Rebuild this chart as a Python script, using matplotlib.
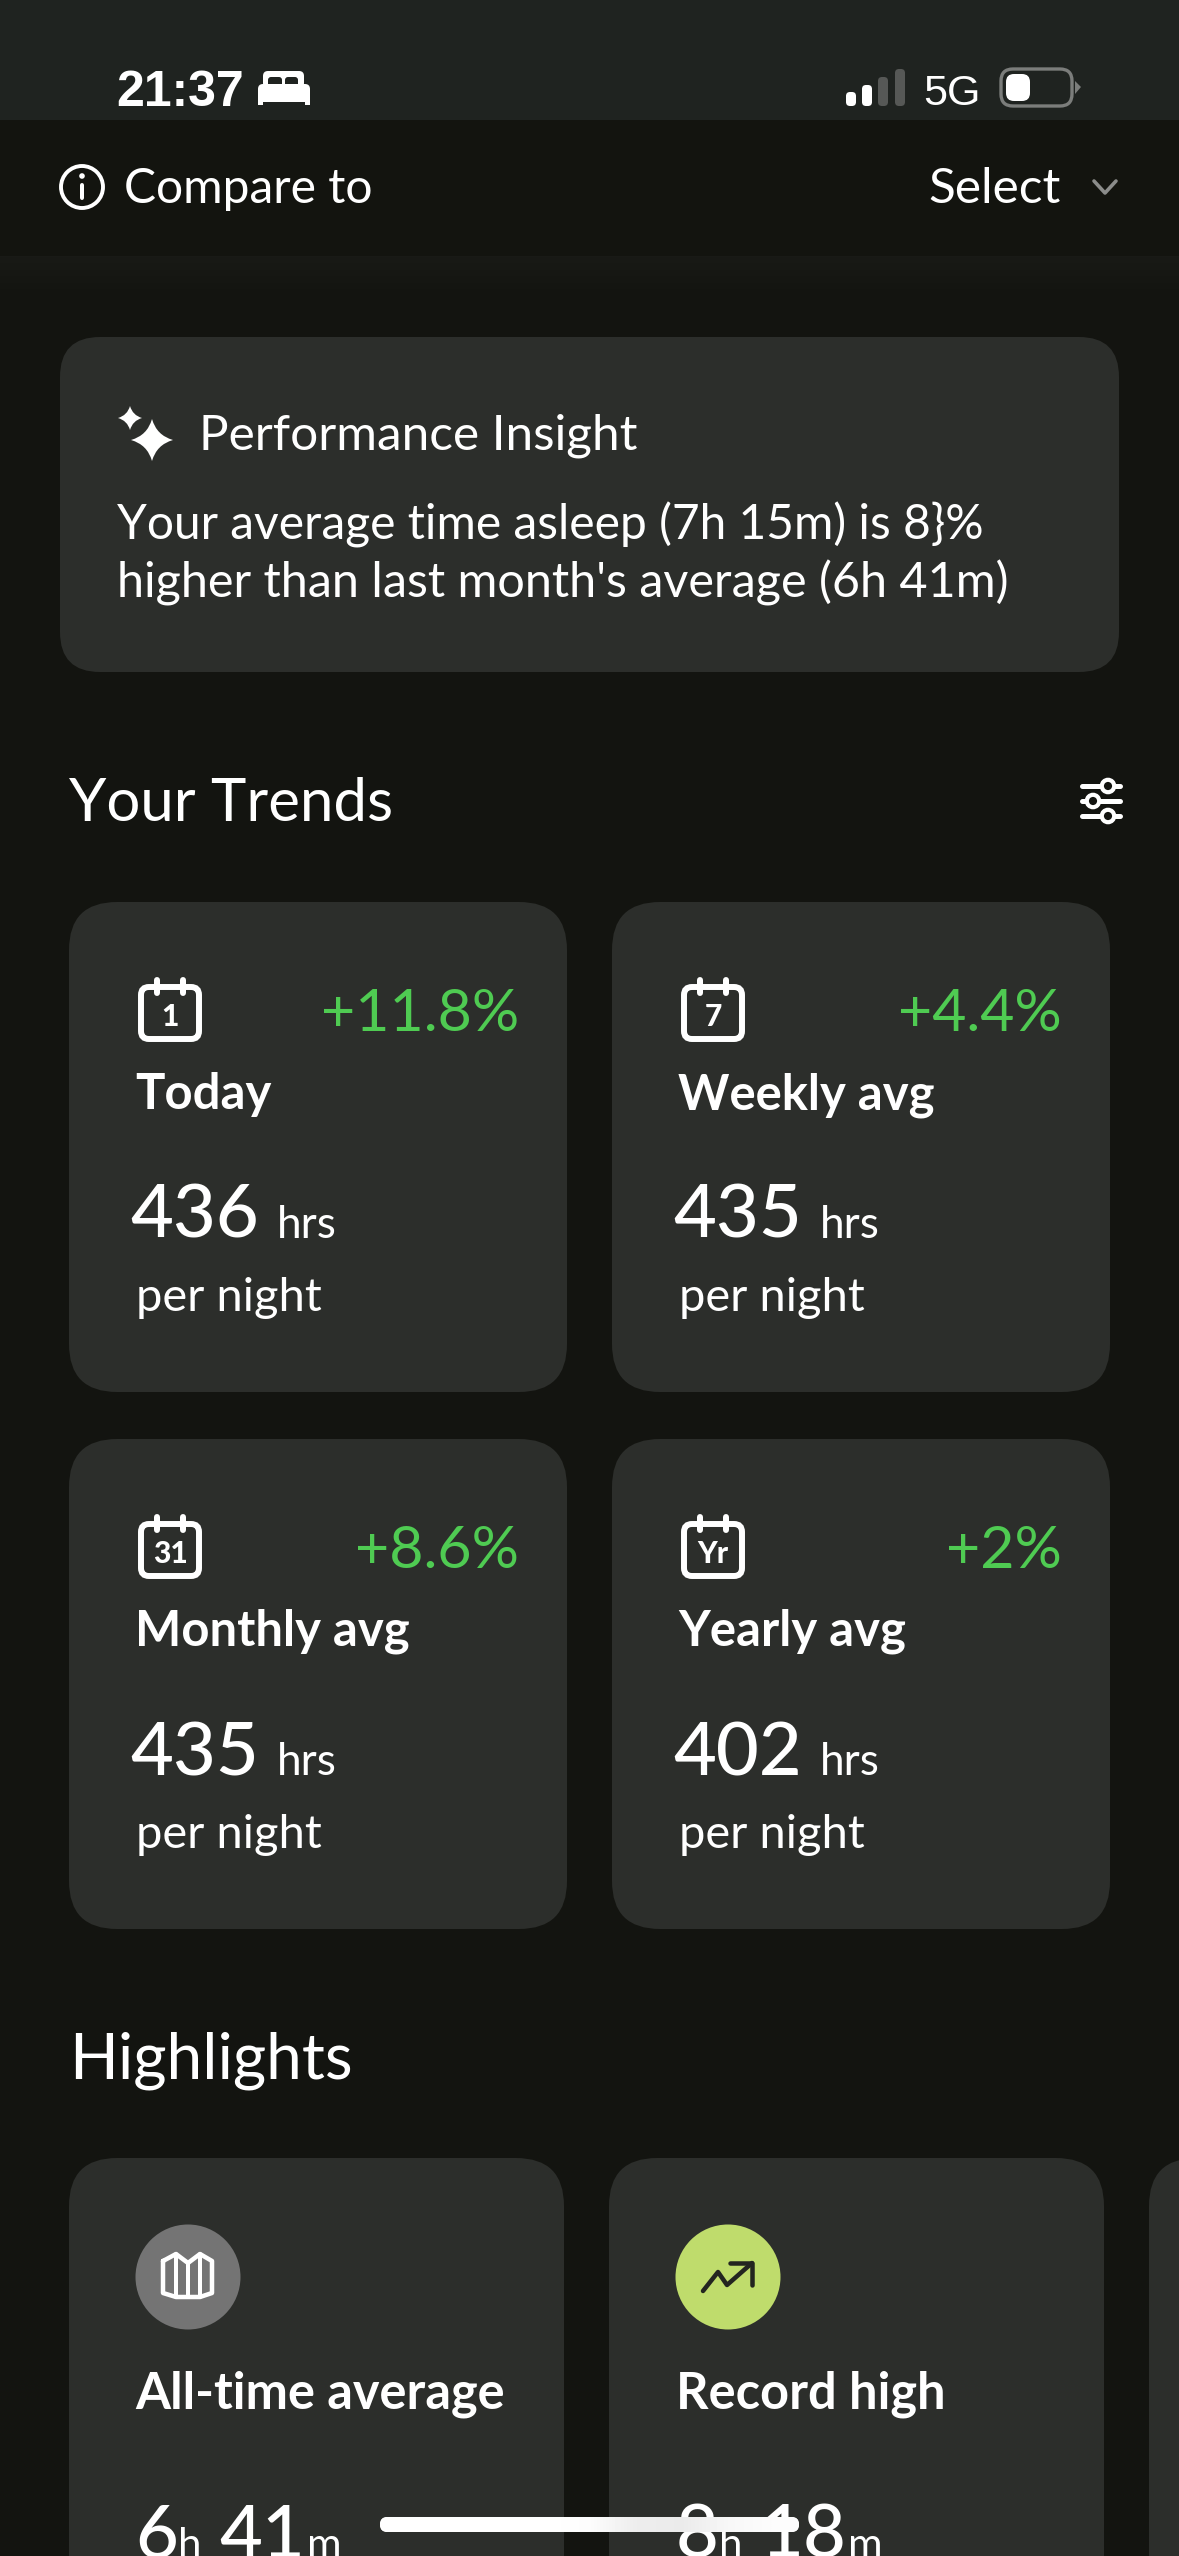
import matplotlib
matplotlib.use("Agg")
import matplotlib.pyplot as plt
from matplotlib.patches import FancyBboxPatch, Circle, Rectangle, PathPatch, Polygon
from matplotlib.path import Path
from matplotlib.colors import to_rgb
import numpy as np

plt.rcParams['font.family'] = ['Lato', 'DejaVu Sans']

# screen text
status_time = "21:37"
network = "5G"
compare_label = "Compare to"
select_label = "Select"
insight_title = "Performance Insight"
insight_lines = ["Your average time asleep (7h 15m) is 8}%",
                 "higher than last month's average (6h 41m)"]

trend_labels = ["Today", "Weekly avg", "Monthly avg", "Yearly avg"]
trend_changes = ["+11.8%", "+4.4%", "+8.6%", "+2%"]
trend_values = ["436", "435", "435", "402"]
trend_icons = ["1", "7", "31", "Yr"]

highlight_labels = ["All-time average", "Record high"]
highlight_hours = ["6", "8"]
highlight_minutes = ["41", "18"]

BG = "#131410"
HEADER = "#13140f"
STATUS = "#1f2320"
CARD = "#2c2e2b"
GREEN = "#4fcb52"

fig = plt.figure(figsize=(11.79, 25.56), dpi=100, facecolor=BG)
ax = fig.add_axes([0, 0, 1, 1])
ax.set_xlim(0, 1179)
ax.set_ylim(2556, 0)
ax.axis('off')


def txt(x, y, s, px, color="white", weight="normal", ha="left", family=None, z=5):
    kw = {}
    if family:
        kw['family'] = family
    return ax.text(x, y, s, fontsize=px * 0.72, color=color, fontweight=weight,
                   ha=ha, va="baseline", zorder=z, **kw)


def card(x0, y0, x1, y1, r, color=CARD, z=1, **kw):
    p = FancyBboxPatch((x0, y0), x1 - x0, y1 - y0, boxstyle=f"round,pad=0,rounding_size={r}",
                       fc=color, ec="none", zorder=z, **kw)
    ax.add_patch(p)
    return p


def line(xs, ys, lw=6, color="white", z=5, **kw):
    ax.plot(xs, ys, color=color, lw=lw * 0.72, solid_capstyle="round",
            solid_joinstyle="round", zorder=z, **kw)


def sparkle(cx, cy, s):
    verts = [(cx, cy - s), (cx, cy), (cx + s, cy), (cx, cy), (cx, cy + s),
             (cx, cy), (cx - s, cy), (cx, cy), (cx, cy - s)]
    # pull the control points a bit away from the centre so the star is fat
    k = 0.22 * s
    verts[1] = (cx + k, cy - k)
    verts[3] = (cx + k, cy + k)
    verts[5] = (cx - k, cy + k)
    verts[7] = (cx - k, cy - k)
    codes = [Path.MOVETO] + [Path.CURVE3] * 8
    ax.add_patch(PathPatch(Path(verts, codes), fc="white", ec="none", zorder=5))


# background bands
ax.add_patch(Rectangle((0, 0), 1179, 120, fc=STATUS, ec="none", zorder=0))
ax.add_patch(Rectangle((0, 120), 1179, 136, fc=HEADER, ec="none", zorder=0))
fade = np.linspace(1, 0, 40)[:, None, None]
shade = fade * np.array(to_rgb("#191a16")) + (1 - fade) * np.array(to_rgb(BG))
ax.imshow(shade, extent=(0, 1179, 296, 256), aspect="auto", zorder=0)
ax.set_xlim(0, 1179)
ax.set_ylim(2556, 0)

# status bar
txt(116, 106, status_time, 50, weight="bold", family="Liberation Sans")
card(263, 71, 304, 88, 5, color="white", z=5)
card(268, 77, 282, 90, 3, color=STATUS, z=6)
card(285, 77, 298, 90, 3, color=STATUS, z=6)
card(258, 84, 310, 102, 5, color="white", z=7)
ax.add_patch(Rectangle((258, 94), 5, 11, fc="white", ec="none", zorder=7))
ax.add_patch(Rectangle((305, 94), 5, 11, fc="white", ec="none", zorder=7))

for bx, top, col in zip([846, 862, 878, 895], [92, 85, 77, 69],
                        ["white", "white", "#565856", "#565856"]):
    card(bx, top, bx + 10, 106, 4, color=col, z=5)
txt(923, 105, network, 43, family="Liberation Sans")
p = FancyBboxPatch((1001, 69), 71, 37, boxstyle="round,pad=0,rounding_size=12", fc="none",
                   ec="#7b7d7b", lw=2.4, zorder=5)
ax.add_patch(p)
card(1006, 74, 1030, 101, 8, color="white", z=6)
ax.add_patch(Polygon([[1075, 81], [1081, 87], [1075, 94]], fc="#7b7d7b", ec="none", zorder=5))

# compare header
ax.add_patch(Circle((82, 187), 21, fc="none", ec="white", lw=2.8, zorder=5))
line([82, 82], [185, 198], lw=4)
ax.add_patch(Circle((82, 176), 2.8, fc="white", ec="none", zorder=5))
txt(124, 203, compare_label, 48)
txt(928, 203, select_label, 49.5)
line([1094, 1105, 1116], [181, 193, 181], lw=3.6, color="#8b8c8a")

# insight card
card(60, 337, 1119, 672, 40)
sparkle(152, 440, 21)
sparkle(130, 418, 12)
txt(199, 449, insight_title, 49.5)
txt(117, 540, insight_lines[0], 47.9)
txt(117, 598, insight_lines[1], 48.5)

# trends
txt(69, 821, "Your Trends", 60)
for y, kx in zip([786, 801, 816], [1108, 1093, 1108]):
    line([1082, 1120], [y, y], lw=5)
    ax.add_patch(Circle((kx, y), 6.2, fc=BG, ec="white", lw=3, zorder=6))

col_x = [69, 612]
row_y = [902, 1439]
for i in range(4):
    x0 = col_x[i % 2]
    y0 = row_y[i // 2]
    dx = x0 - 69
    dy = y0 - 902
    card(x0, y0, x0 + 498, y0 + 490, 48)

    # calendar icon
    ax.add_patch(FancyBboxPatch((141 + dx, 987 + dy), 58, 52, boxstyle="round,pad=0,rounding_size=8",
                                fc="none", ec="white", lw=4.3, zorder=5))
    line([157 + dx, 157 + dx], [980 + dy, 993 + dy], lw=6)
    line([183 + dx, 183 + dx], [980 + dy, 993 + dy], lw=6)
    txt(170 + dx, 1026 + dy, trend_icons[i], 30, weight="black", ha="center")

    txt(519 + dx, 1031 + dy, trend_changes[i], 59, color=GREEN, ha="right")
    txt(135 + dx, 1109 + dy, trend_labels[i], 49, weight="bold")
    txt(130 + dx, 1238 + dy, trend_values[i], 74, weight="medium")
    txt(277 + dx, 1238 + dy, "hrs", 44)
    txt(136 + dx, 1311 + dy, "per night", 47)

# highlights
txt(69, 2079, "Highlights", 64)
card(69, 2158, 564, 2700, 48)
card(609, 2158, 1104, 2700, 48)
card(1149, 2158, 1300, 2700, 48)
ax.add_patch(Circle((188, 2277), 52.5, fc="#747474", ec="none", zorder=3))
ax.add_patch(Circle((728, 2277), 52.5, fc="#bfdc6c", ec="none", zorder=3))

# map icon
line([163, 163, 176, 188, 200, 212, 212, 200, 188, 176, 163],
     [2261, 2293, 2297, 2297, 2297, 2293, 2261, 2254, 2263, 2254, 2261], lw=4.5)
line([176, 176], [2254, 2297], lw=4)
line([188, 188], [2263, 2297], lw=4)
line([200, 200], [2254, 2297], lw=4)

# record icon
line([703, 718, 727, 752], [2291, 2272, 2285, 2263], lw=4.5, color="#232520")
line([730, 752, 752], [2263, 2263, 2285], lw=4.5, color="#232520")

for x0, label, h, m in zip([135, 676], highlight_labels, highlight_hours, highlight_minutes):
    txt(x0, 2409, label, 50.5, weight="bold")
    txt(x0, 2558, h, 74, weight="medium")
    txt(x0 + 43, 2558, "h", 42)
    txt(x0 + 84, 2558, m, 74, weight="medium")
    txt(x0 + 172, 2558, "m", 42)

# home indicator
bar = card(380, 2517, 799, 2532, 7.5, color="white", z=8)
grad = np.array([[1, 1, 1, 1, .99, .93, .92, .97, .99]])
im = ax.imshow(grad, extent=(380, 799, 2532, 2517), cmap="gray", vmin=0, vmax=1, aspect="auto",
               interpolation="bilinear", zorder=9)
im.set_clip_path(bar)
ax.set_xlim(0, 1179)
ax.set_ylim(2556, 0)

fig.savefig("out.png", dpi=100, facecolor=BG)
